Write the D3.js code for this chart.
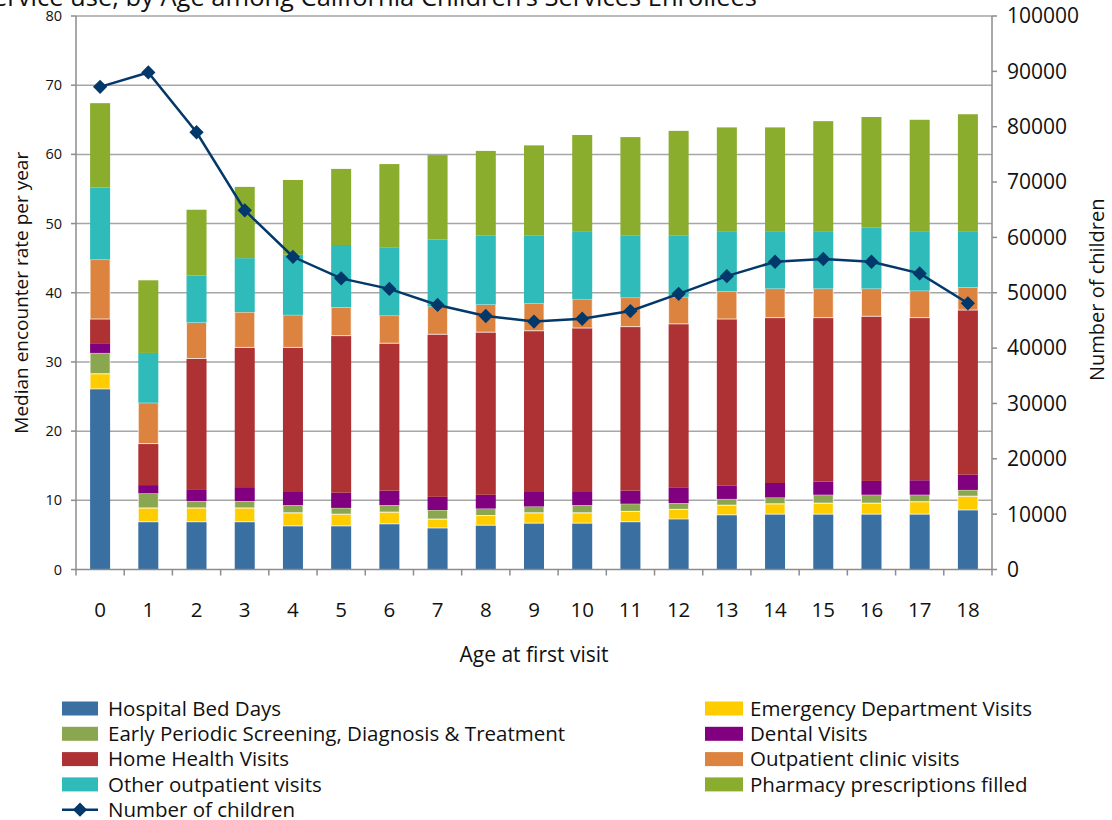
<!DOCTYPE html>
<html>
<head>
<meta charset="utf-8">
<script src="https://cdn.jsdelivr.net/npm/d3@7"></script>
<style>
  html, body { margin: 0; padding: 0; background: #fff; }
  svg { display: block; font-family: "Open Sans", Lato, sans-serif; }
</style>
</head>
<body>
<div id="chart"></div>
<script>
'use strict';

// ─── Data ──────────────────────────────────────────────────────────────────
const ages = ['0','1','2','3','4','5','6','7','8','9','10','11','12','13','14','15','16','17','18'];

const hospitalBedDays   = [26.1, 6.9, 6.9, 6.9, 6.3, 6.3, 6.6, 6.0, 6.4, 6.7, 6.7, 6.9, 7.3, 7.9, 8.0, 8.0, 8.0, 8.0, 8.6];
const emergencyVisits   = [2.2, 2.0, 2.0, 2.0, 1.9, 1.7, 1.7, 1.3, 1.4, 1.5, 1.5, 1.5, 1.4, 1.4, 1.5, 1.6, 1.6, 1.8, 2.0];
const epsdt             = [3.0, 2.1, 1.0, 1.0, 1.1, 0.9, 1.0, 1.3, 1.0, 0.9, 1.1, 1.1, 0.9, 0.9, 0.9, 1.2, 1.2, 1.0, 0.9];
const dentalVisits      = [1.4, 1.2, 1.6, 2.0, 1.9, 2.2, 2.1, 1.9, 2.0, 2.1, 1.9, 1.9, 2.2, 1.9, 2.1, 1.9, 2.0, 2.1, 2.2];
const homeHealthVisits  = [3.5, 6.0, 19.0, 20.2, 20.9, 22.7, 21.3, 23.5, 23.5, 23.3, 23.7, 23.7, 23.7, 24.1, 23.9, 23.7, 23.8, 23.5, 23.8];
const outpatientClinic  = [8.6, 5.9, 5.2, 5.1, 4.7, 4.1, 4.0, 4.0, 4.0, 4.0, 4.2, 4.2, 3.9, 4.0, 4.2, 4.2, 4.0, 3.9, 3.3];
const otherOutpatient   = [10.4, 7.2, 6.8, 7.8, 8.7, 9.0, 9.8, 9.7, 10.0, 9.8, 9.7, 9.0, 8.9, 8.7, 8.3, 8.3, 8.8, 8.6, 8.1];
const pharmacy          = [12.2, 10.5, 9.5, 10.3, 10.8, 11.0, 12.1, 12.2, 12.2, 13.0, 14.0, 14.2, 15.1, 15.0, 15.0, 15.9, 16.0, 16.1, 16.9];

const numberOfChildren  = [87200, 89800, 79000, 64900, 56500, 52600, 50700, 47800, 45800, 44800, 45300, 46700, 49800, 53000, 55600, 56100, 55600, 53500, 48100];

const leftTicks  = [0, 10, 20, 30, 40, 50, 60, 70, 80];
const rightTicks = [0, 10000, 20000, 30000, 40000, 50000, 60000, 70000, 80000, 90000, 100000];

// stack order bottom -> top
const series = [
    { key: 'bed',    name: 'Hospital Bed Days',                              values: hospitalBedDays,  color: '#3a6fa2', edge: false },
    { key: 'ed',     name: 'Emergency Department Visits',                    values: emergencyVisits,  color: '#ffcc00', edge: true  },
    { key: 'epsdt',  name: 'Early Periodic Screening, Diagnosis & Treatment', values: epsdt,           color: '#8aa64e', edge: true  },
    { key: 'dental', name: 'Dental Visits',                                  values: dentalVisits,     color: '#800080', edge: false },
    { key: 'home',   name: 'Home Health Visits',                             values: homeHealthVisits, color: '#ae3233', edge: false },
    { key: 'clinic', name: 'Outpatient clinic visits',                       values: outpatientClinic, color: '#dd8340', edge: true  },
    { key: 'other',  name: 'Other outpatient visits',                        values: otherOutpatient,  color: '#2ebbb9', edge: false },
    { key: 'pharm',  name: 'Pharmacy prescriptions filled',                  values: pharmacy,         color: '#8aad2e', edge: false }
];

// legend layout: [left column, right column]
const legendRows = [
    ['bed', 'ed'],
    ['epsdt', 'dental'],
    ['home', 'clinic'],
    ['other', 'pharm'],
    ['line', null]
];

const LINE_COLOR = '#03386b';
const GRID = '#a6a6a6';

// ─── Render ────────────────────────────────────────────────────────────────
const W = 1112, H = 820;
const plot = { left: 76, right: 992, top: 16, bottom: 569.5 };

const svg = d3.select('#chart').append('svg')
    .attr('width', W).attr('height', H);

const x = d3.scaleBand()
    .domain(ages)
    .range([plot.left, plot.right])
    .paddingInner(0.585)
    .paddingOuter(0.2925);

const y = d3.scaleLinear().domain([0, 80]).range([plot.bottom, plot.top]);
const y2 = d3.scaleLinear().domain([0, 100000]).range([plot.bottom, plot.top]);

// gridlines
svg.append('g').selectAll('line')
    .data(leftTicks.filter(function (t) { return t > 0; }))
    .enter().append('line')
    .attr('x1', plot.left).attr('x2', plot.right)
    .attr('y1', function (d) { return y(d); })
    .attr('y2', function (d) { return y(d); })
    .attr('stroke', GRID).attr('stroke-width', 1.5);

// stacked bars
const table = ages.map(function (a, i) {
    const row = { age: a };
    series.forEach(function (s) { row[s.key] = s.values[i]; });
    return row;
});
const stacked = d3.stack().keys(series.map(function (s) { return s.key; }))(table);

const layers = svg.append('g').selectAll('g')
    .data(stacked)
    .enter().append('g')
    .attr('fill', function (d, i) { return series[i].color; });

layers.each(function (layer, i) {
    d3.select(this).selectAll('rect')
        .data(layer)
        .enter().append('rect')
        .attr('x', function (d) { return x(d.data.age); })
        .attr('width', x.bandwidth())
        .attr('y', function (d) { return y(d[1]); })
        .attr('height', function (d) { return y(d[0]) - y(d[1]); })
        .attr('stroke', series[i].edge ? '#ffffff' : 'none')
        .attr('stroke-opacity', 0.7)
        .attr('stroke-width', 1);
});

// axes lines
const axisG = svg.append('g').attr('stroke', '#8c8c8c').attr('stroke-width', 1.5);
axisG.append('line').attr('x1', plot.left).attr('x2', plot.left).attr('y1', plot.top).attr('y2', plot.bottom);
axisG.append('line').attr('x1', plot.right).attr('x2', plot.right).attr('y1', plot.top).attr('y2', plot.bottom);
axisG.append('line').attr('x1', plot.left).attr('x2', plot.right).attr('y1', plot.bottom).attr('y2', plot.bottom);

// left ticks
axisG.selectAll('.lt').data(leftTicks).enter().append('line')
    .attr('x1', plot.left - 5).attr('x2', plot.left)
    .attr('y1', function (d) { return y(d); }).attr('y2', function (d) { return y(d); });
// right ticks
axisG.selectAll('.rt').data(rightTicks).enter().append('line')
    .attr('x1', plot.right).attr('x2', plot.right + 5)
    .attr('y1', function (d) { return y2(d); }).attr('y2', function (d) { return y2(d); });
// category boundary ticks
const bounds = ages.map(function (a) { return x(a) + x.bandwidth() / 2 - x.step() / 2; })
    .concat([x(ages[ages.length - 1]) + x.bandwidth() / 2 + x.step() / 2]);
axisG.selectAll('.bt').data(bounds).enter().append('line')
    .attr('x1', function (d) { return d; }).attr('x2', function (d) { return d; })
    .attr('y1', plot.bottom).attr('y2', plot.bottom + 6);

// tick labels
svg.append('g').selectAll('text').data(leftTicks).enter().append('text')
    .attr('x', plot.left - 14).attr('y', function (d) { return y(d); })
    .attr('dy', '0.35em').attr('text-anchor', 'end')
    .attr('font-size', 14.5).attr('fill', '#111')
    .text(function (d) { return d; });

svg.append('g').selectAll('text').data(rightTicks).enter().append('text')
    .attr('x', plot.right + 15).attr('y', function (d) { return y2(d); })
    .attr('dy', '0.35em').attr('text-anchor', 'start')
    .attr('font-size', 21).attr('fill', '#111')
    .text(function (d) { return d; });

svg.append('g').selectAll('text').data(ages).enter().append('text')
    .attr('x', function (d) { return x(d) + x.bandwidth() / 2; })
    .attr('y', 617)
    .attr('text-anchor', 'middle')
    .attr('font-size', 20.5).attr('fill', '#111')
    .text(function (d) { return d; });

// axis titles
svg.append('text')
    .attr('x', (plot.left + plot.right) / 2).attr('y', 662)
    .attr('text-anchor', 'middle').attr('font-size', 21).attr('fill', '#111')
    .text('Age at first visit');

svg.append('text')
    .attr('transform', 'translate(28,' + (plot.top + plot.bottom) / 2 + ') rotate(-90)')
    .attr('text-anchor', 'middle').attr('font-size', 19).attr('fill', '#111')
    .text('Median encounter rate per year');

svg.append('text')
    .attr('transform', 'translate(1104,' + ((plot.top + plot.bottom) / 2 - 3) + ') rotate(-90)')
    .attr('text-anchor', 'middle').attr('font-size', 20).attr('fill', '#111')
    .text('Number of children');

// title (clipped at left edge as in source)
svg.append('text')
    .attr('x', 757).attr('y', 6)
    .attr('text-anchor', 'end').attr('font-size', 25.5).attr('fill', '#111')
    .text('Service use, by Age among California Children\u2019s Services Enrollees');

// line series
const line = d3.line()
    .x(function (d, i) { return x(ages[i]) + x.bandwidth() / 2; })
    .y(function (d) { return y2(d); });

svg.append('path')
    .datum(numberOfChildren)
    .attr('d', line)
    .attr('fill', 'none')
    .attr('stroke', LINE_COLOR)
    .attr('stroke-width', 2.5);

const diamond = d3.symbol().type(d3.symbolDiamond2).size(130);
svg.append('g').selectAll('path').data(numberOfChildren).enter().append('path')
    .attr('d', diamond)
    .attr('transform', function (d, i) {
        return 'translate(' + (x(ages[i]) + x.bandwidth() / 2) + ',' + y2(d) + ')';
    })
    .attr('fill', LINE_COLOR);

// legend
const legendX = [62, 705];
const legendY0 = 708.5, legendDY = 25.3;
const byKey = {};
series.forEach(function (s) { byKey[s.key] = s; });

legendRows.forEach(function (row, r) {
    row.forEach(function (key, c) {
        if (!key) return;
        const g = svg.append('g')
            .attr('transform', 'translate(' + legendX[c] + ',' + (legendY0 + r * legendDY) + ')');
        let label;
        if (key === 'line') {
            g.append('line').attr('x1', 0).attr('x2', 36).attr('y1', 0).attr('y2', 0)
                .attr('stroke', LINE_COLOR).attr('stroke-width', 2.5);
            g.append('path').attr('d', diamond).attr('transform', 'translate(18,0)').attr('fill', LINE_COLOR);
            label = 'Number of children';
        } else {
            const s = byKey[key];
            g.append('rect').attr('x', 0).attr('y', -7).attr('width', c === 0 ? 36 : 38).attr('height', 14)
                .attr('fill', s.color);
            label = s.name;
        }
        g.append('text')
            .attr('x', c === 0 ? 46 : 45).attr('y', 0).attr('dy', '0.35em')
            .attr('font-size', 20.5).attr('fill', '#111')
            .text(label);
    });
});
</script>
</body>
</html>
